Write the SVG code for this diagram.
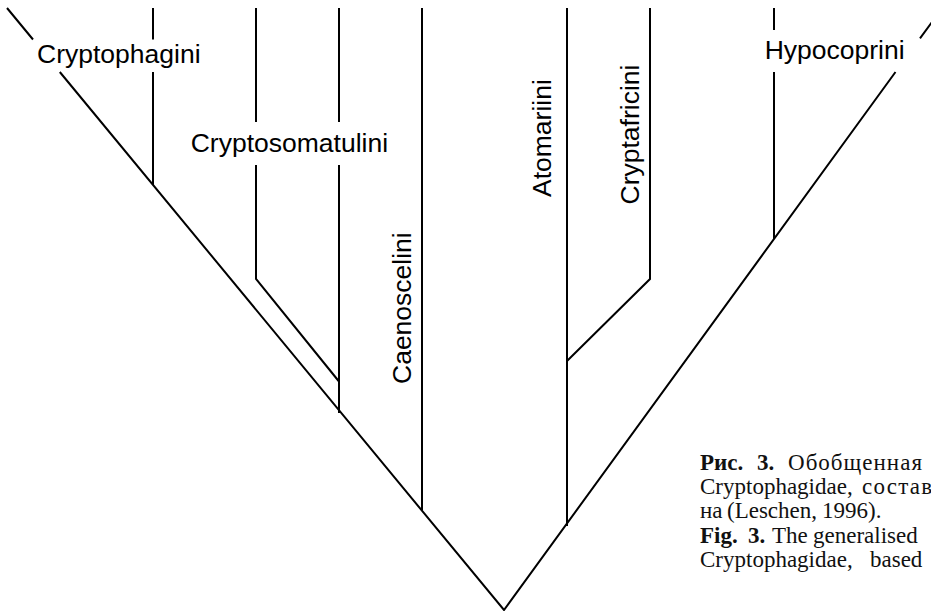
<svg xmlns="http://www.w3.org/2000/svg" width="931" height="611" viewBox="0 0 931 611">
<style>
.ln{fill:none;stroke:#000;stroke-width:2;stroke-linejoin:miter}
.lbl{font-family:"Liberation Sans",Arial,sans-serif;font-size:26.5px;fill:#000}
.cap{font-family:"Liberation Serif","Times New Roman",serif;font-size:23px;fill:#111}
.b{font-weight:bold}
</style>
<rect width="931" height="611" fill="#fff"/>
<g id="connectors">
<path class="ln" d="M7,8 L33,39.5 M59.8,72 L504,610 L895.5,72 M920,38.3 L932,22"/>
<path class="ln" d="M153,8 V39.5 M153,72 V185"/>
<path class="ln" d="M256,8 V122 M256,165 V279 L339,381.5"/>
<path class="ln" d="M339,8 V122 M339,165 V413"/>
<path class="ln" d="M422,8 V510"/>
<path class="ln" d="M567,8 V526"/>
<path class="ln" d="M650,8 V279 L567,361"/>
<path class="ln" d="M774,8 V30 M774,72 V239"/>
</g>
<g id="Cryptophagini"><text class="lbl" x="37" y="63">Cryptophagini</text></g>
<g id="Cryptosomatulini"><text class="lbl" x="190.7" y="152">Cryptosomatulini</text></g>
<g id="Caenoscelini"><text class="lbl" transform="translate(410.5,384) rotate(-90)">Caenoscelini</text></g>
<g id="Atomariini"><text class="lbl" transform="translate(551,197) rotate(-90)">Atomariini</text></g>
<g id="Cryptafricini"><text class="lbl" transform="translate(638.5,204.5) rotate(-90)">Cryptafricini</text></g>
<g id="Hypocoprini"><text class="lbl" x="764.7" y="59">Hypocoprini</text></g>
<g id="caption">
<text class="cap" y="470"><tspan class="b" x="700">Рис.</tspan><tspan class="b" x="757">3.</tspan><tspan x="788" textLength="134" lengthAdjust="spacing">Обобщенная</tspan></text>
<text class="cap" y="494"><tspan x="700">Cryptophagidae,</tspan><tspan x="862" textLength="70" lengthAdjust="spacing">состав</tspan></text>
<text class="cap" y="518"><tspan x="700">на</tspan><tspan x="727">(Leschen,</tspan><tspan x="822">1996).</tspan></text>
<text class="cap" y="543"><tspan class="b" x="700">Fig.</tspan><tspan class="b" x="748">3.</tspan><tspan x="772">The</tspan><tspan x="813">generalised</tspan></text>
<text class="cap" y="567"><tspan x="700">Cryptophagidae,</tspan><tspan x="870">based</tspan></text>
</g>
</svg>
